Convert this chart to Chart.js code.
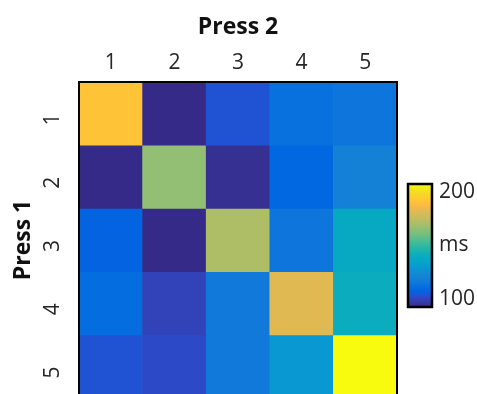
<!DOCTYPE html>
<html><head><meta charset="utf-8">
<script src="https://cdn.jsdelivr.net/npm/chart.js@4.4.1/dist/chart.umd.min.js"></script>
<style>
html,body{margin:0;padding:0;background:#fff;overflow:hidden;width:477px;height:394px;}
#main{position:absolute;left:0;top:0;}
#cbar{position:absolute;left:400px;top:170px;}
</style></head><body>
<canvas id="main" width="477" height="420"></canvas>
<canvas id="cbar" width="77" height="150"></canvas>
<script>
// ---- data ----
const press2Labels = ['1','2','3','4','5'];
const press1Labels = [1,2,3,4,5];
const row1 = [191, 93, 104, 112, 115];
const row2 = [92, 166, 95, 109, 120];
const row3 = [108, 92, 171, 114, 138];
const row4 = [111, 100, 116, 182, 140];
const row5 = [104, 102, 116, 130, 208];
const rows = [row1, row2, row3, row4, row5];
const colorMin = 92, colorMax = 208;
const colorbarTicks = [100, 200];
const colorbarUnit = 'ms';

// MATLAB parula colormap (64 entries)
const parula = [[0.2081,0.1663,0.5292],[0.2116,0.1898,0.5777],[0.2123,0.2138,0.6270],[0.2081,0.2386,0.6771],[0.1959,0.2645,0.7279],[0.1707,0.2919,0.7792],[0.1253,0.3242,0.8303],[0.0591,0.3598,0.8683],[0.0117,0.3875,0.8820],[0.0060,0.4086,0.8828],[0.0165,0.4266,0.8786],[0.0329,0.4430,0.8720],[0.0498,0.4586,0.8641],[0.0629,0.4737,0.8554],[0.0723,0.4887,0.8467],[0.0779,0.5040,0.8384],[0.0793,0.5200,0.8312],[0.0749,0.5375,0.8263],[0.0641,0.5570,0.8240],[0.0488,0.5772,0.8228],[0.0343,0.5966,0.8199],[0.0265,0.6137,0.8135],[0.0239,0.6287,0.8038],[0.0231,0.6418,0.7913],[0.0228,0.6535,0.7768],[0.0267,0.6642,0.7607],[0.0384,0.6743,0.7436],[0.0590,0.6838,0.7254],[0.0843,0.6928,0.7062],[0.1133,0.7015,0.6859],[0.1453,0.7098,0.6646],[0.1801,0.7177,0.6424],[0.2178,0.7250,0.6193],[0.2586,0.7317,0.5954],[0.3022,0.7376,0.5712],[0.3482,0.7424,0.5473],[0.3953,0.7459,0.5244],[0.4420,0.7481,0.5033],[0.4871,0.7491,0.4840],[0.5300,0.7491,0.4661],[0.5709,0.7485,0.4494],[0.6099,0.7473,0.4337],[0.6473,0.7456,0.4188],[0.6834,0.7435,0.4044],[0.7184,0.7411,0.3905],[0.7525,0.7384,0.3768],[0.7858,0.7356,0.3633],[0.8185,0.7327,0.3498],[0.8507,0.7299,0.3360],[0.8824,0.7274,0.3217],[0.9139,0.7258,0.3063],[0.9450,0.7261,0.2886],[0.9739,0.7314,0.2666],[0.9938,0.7455,0.2403],[0.9990,0.7653,0.2164],[0.9955,0.7861,0.1967],[0.9880,0.8066,0.1794],[0.9789,0.8271,0.1633],[0.9697,0.8481,0.1475],[0.9626,0.8705,0.1309],[0.9589,0.8949,0.1132],[0.9598,0.9218,0.0948],[0.9661,0.9514,0.0755],[0.9763,0.9831,0.0538]];
function rgbStr(c){return `rgb(${Math.round(c[0]*255)},${Math.round(c[1]*255)},${Math.round(c[2]*255)})`;}
function cmap(v){
  let f=(v-colorMin)/(colorMax-colorMin); f=Math.max(0,Math.min(1,f));
  const i=Math.min(parula.length-1, Math.floor(f*parula.length));
  return rgbStr(parula[i]);
}
const FONT='"Open Sans", sans-serif';
const TXT='#262626';

function frame(lw){
  return {
    id:'frame',
    afterDatasetsDraw(chart){
      const a=chart.chartArea, c=chart.ctx;
      c.save(); c.strokeStyle='#000'; c.lineWidth=lw;
      c.strokeRect(a.left,a.top,a.right-a.left,a.bottom-a.top);
      c.restore();
    }
  };
}
function noPad(s){s.paddingTop=0;s.paddingBottom=0;s.paddingLeft=0;s.paddingRight=0;}

new Chart(document.getElementById('main'), {
  type:'bar',
  data:{
    labels: press2Labels,
    datasets: rows.map((r,ri)=>({
      data: r.map(()=>[press1Labels[ri]-0.5, press1Labels[ri]+0.5]),
      backgroundColor: r.map(cmap),
      borderWidth:0,
      barPercentage:1, categoryPercentage:1, grouped:false
    }))
  },
  options:{
    responsive:false, animation:false,
    layout:{padding:{left:0,top:0,right:80,bottom:22}},
    plugins:{legend:{display:false},tooltip:{enabled:false}},
    scales:{
      x:{
        position:'top',
        grid:{display:false,drawTicks:false},
        border:{display:false},
        ticks:{color:TXT,font:{family:FONT,size:21},padding:6},
        title:{display:true,text:'Press 2',color:'#111',font:{family:FONT,size:23,weight:'bold'},padding:{top:14,bottom:0}},
        afterFit(s){s.height=82;noPad(s);}
      },
      y:{
        type:'linear', reverse:true, min:0.5, max:5.5,
        afterBuildTicks(s){s.ticks=press1Labels.map(v=>({value:v}));},
        grid:{display:false,drawTicks:false},
        border:{display:false},
        ticks:{color:TXT,font:{family:FONT,size:21},padding:26,minRotation:90,maxRotation:90},
        title:{display:true,text:'Press 1',color:'#111',font:{family:FONT,size:23,weight:'bold'},padding:{top:10,bottom:0}},
        afterFit(s){s.width=79;noPad(s);}
      }
    }
  },
  plugins:[frame(2)]
});

new Chart(document.getElementById('cbar'), {
  type:'bar',
  data:{labels:[''],datasets:[{
    data:[[colorMin,colorMax]],
    borderWidth:0, barPercentage:1, categoryPercentage:1,
    backgroundColor(ctx){
      const ch=ctx.chart; if(!ch.chartArea) return '#888';
      const y=ch.scales.y;
      const g=ch.ctx.createLinearGradient(0,y.getPixelForValue(colorMin),0,y.getPixelForValue(colorMax));
      parula.forEach((c,i)=>g.addColorStop(i/(parula.length-1),rgbStr(c)));
      return g;
    }
  }]},
  options:{
    responsive:false, animation:false,
    layout:{padding:{left:8,top:14,right:0,bottom:13}},
    plugins:{legend:{display:false},tooltip:{enabled:false}},
    scales:{
      x:{display:false},
      y:{
        position:'right', min:colorMin, max:colorMax,
        afterBuildTicks(s){s.ticks=[{value:colorbarTicks[0]},{value:(colorbarTicks[0]+colorbarTicks[1])/2},{value:colorbarTicks[1]}];},
        grid:{display:false,drawTicks:false},
        border:{display:false},
        ticks:{color:TXT,font:{family:FONT,size:21},padding:7,
          callback(v){return v===(colorbarTicks[0]+colorbarTicks[1])/2?colorbarUnit:v;}},
        afterFit(s){s.width=45;noPad(s);}
      }
    }
  },
  plugins:[frame(2.5)]
});
</script>
</body></html>
